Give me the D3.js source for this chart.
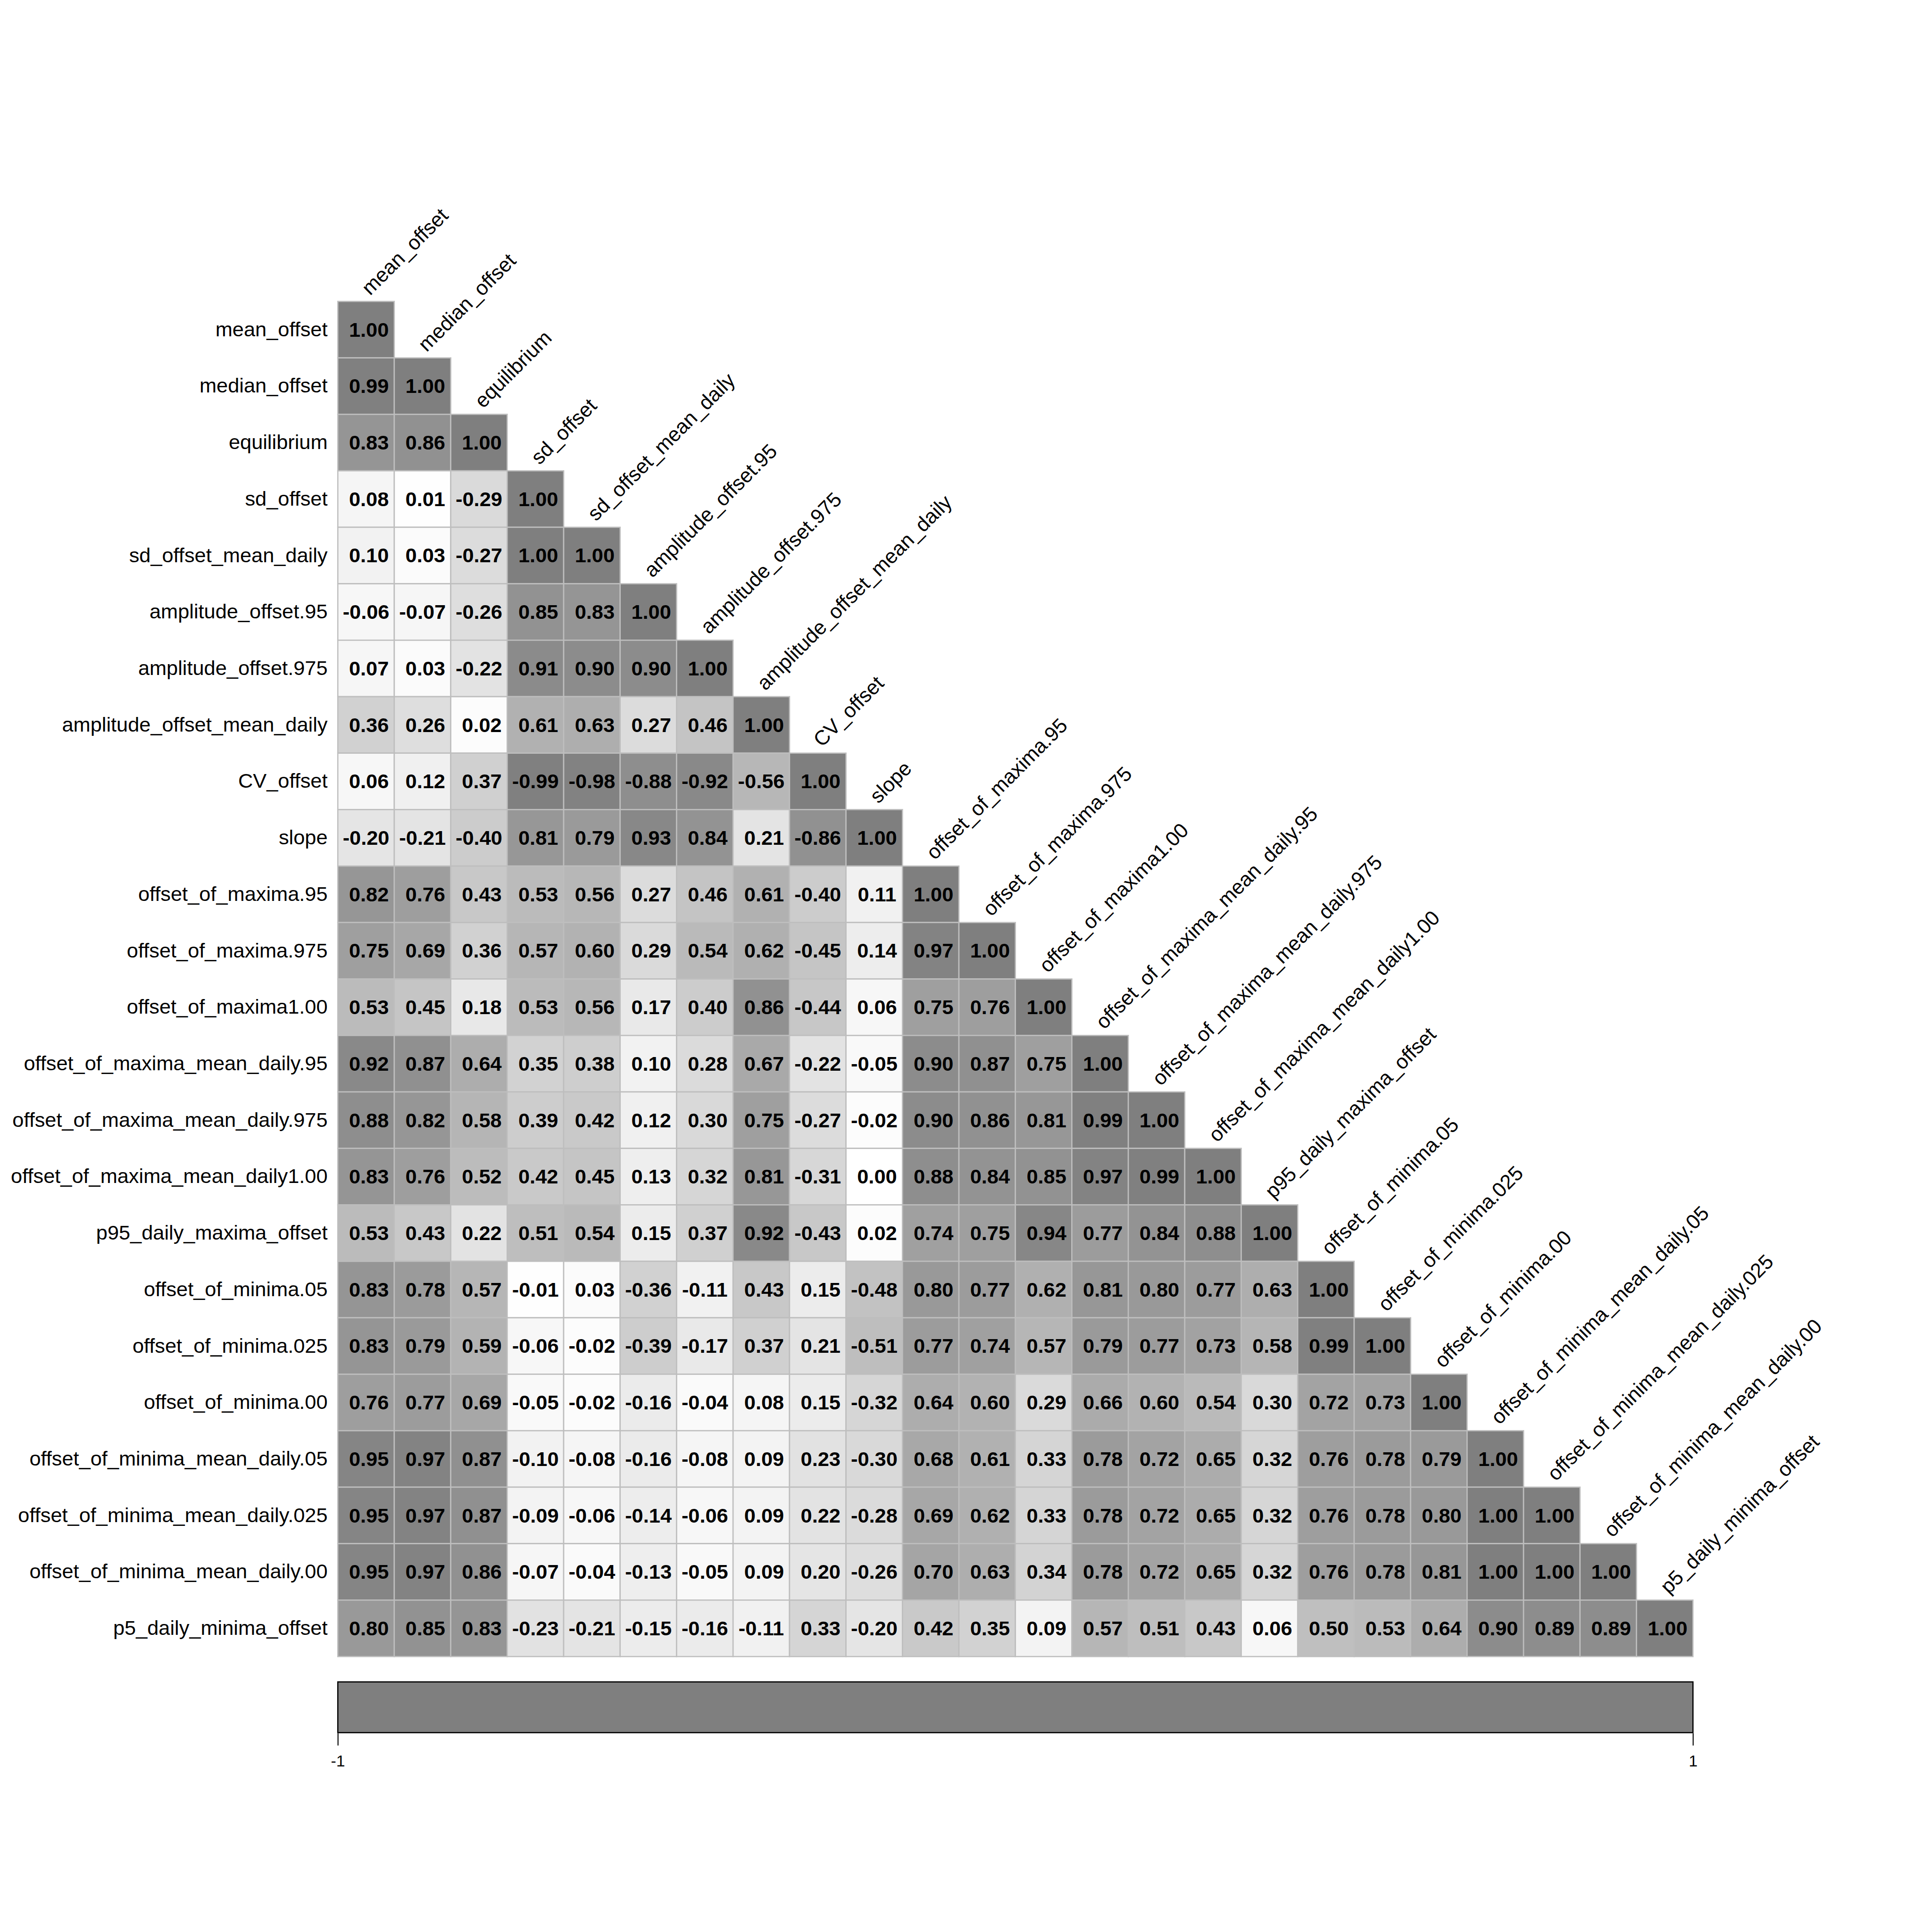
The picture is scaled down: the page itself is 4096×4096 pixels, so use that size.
<!DOCTYPE html>
<html>
<head>
<meta charset="utf-8">
<script src="https://cdn.jsdelivr.net/npm/d3@7"></script>
<style>
  html, body { margin: 0; padding: 0; background: #ffffff; }
  svg { display: block; }
</style>
</head>
<body>
<script>
// ---------------- data ----------------
const variables = [
  "mean_offset", "median_offset", "equilibrium", "sd_offset", "sd_offset_mean_daily",
  "amplitude_offset.95", "amplitude_offset.975", "amplitude_offset_mean_daily", "CV_offset",
  "slope", "offset_of_maxima.95", "offset_of_maxima.975", "offset_of_maxima1.00",
  "offset_of_maxima_mean_daily.95", "offset_of_maxima_mean_daily.975",
  "offset_of_maxima_mean_daily1.00", "p95_daily_maxima_offset", "offset_of_minima.05",
  "offset_of_minima.025", "offset_of_minima.00", "offset_of_minima_mean_daily.05",
  "offset_of_minima_mean_daily.025", "offset_of_minima_mean_daily.00", "p5_daily_minima_offset"
];

// lower triangle (row i holds correlations with columns 0..i)
const corrRows = [
  [1.00],
  [0.99, 1.00],
  [0.83, 0.86, 1.00],
  [0.08, 0.01, -0.29, 1.00],
  [0.10, 0.03, -0.27, 1.00, 1.00],
  [-0.06, -0.07, -0.26, 0.85, 0.83, 1.00],
  [0.07, 0.03, -0.22, 0.91, 0.90, 0.90, 1.00],
  [0.36, 0.26, 0.02, 0.61, 0.63, 0.27, 0.46, 1.00],
  [0.06, 0.12, 0.37, -0.99, -0.98, -0.88, -0.92, -0.56, 1.00],
  [-0.20, -0.21, -0.40, 0.81, 0.79, 0.93, 0.84, 0.21, -0.86, 1.00],
  [0.82, 0.76, 0.43, 0.53, 0.56, 0.27, 0.46, 0.61, -0.40, 0.11, 1.00],
  [0.75, 0.69, 0.36, 0.57, 0.60, 0.29, 0.54, 0.62, -0.45, 0.14, 0.97, 1.00],
  [0.53, 0.45, 0.18, 0.53, 0.56, 0.17, 0.40, 0.86, -0.44, 0.06, 0.75, 0.76, 1.00],
  [0.92, 0.87, 0.64, 0.35, 0.38, 0.10, 0.28, 0.67, -0.22, -0.05, 0.90, 0.87, 0.75, 1.00],
  [0.88, 0.82, 0.58, 0.39, 0.42, 0.12, 0.30, 0.75, -0.27, -0.02, 0.90, 0.86, 0.81, 0.99, 1.00],
  [0.83, 0.76, 0.52, 0.42, 0.45, 0.13, 0.32, 0.81, -0.31, 0.00, 0.88, 0.84, 0.85, 0.97, 0.99, 1.00],
  [0.53, 0.43, 0.22, 0.51, 0.54, 0.15, 0.37, 0.92, -0.43, 0.02, 0.74, 0.75, 0.94, 0.77, 0.84, 0.88, 1.00],
  [0.83, 0.78, 0.57, -0.01, 0.03, -0.36, -0.11, 0.43, 0.15, -0.48, 0.80, 0.77, 0.62, 0.81, 0.80, 0.77, 0.63, 1.00],
  [0.83, 0.79, 0.59, -0.06, -0.02, -0.39, -0.17, 0.37, 0.21, -0.51, 0.77, 0.74, 0.57, 0.79, 0.77, 0.73, 0.58, 0.99, 1.00],
  [0.76, 0.77, 0.69, -0.05, -0.02, -0.16, -0.04, 0.08, 0.15, -0.32, 0.64, 0.60, 0.29, 0.66, 0.60, 0.54, 0.30, 0.72, 0.73, 1.00],
  [0.95, 0.97, 0.87, -0.10, -0.08, -0.16, -0.08, 0.09, 0.23, -0.30, 0.68, 0.61, 0.33, 0.78, 0.72, 0.65, 0.32, 0.76, 0.78, 0.79, 1.00],
  [0.95, 0.97, 0.87, -0.09, -0.06, -0.14, -0.06, 0.09, 0.22, -0.28, 0.69, 0.62, 0.33, 0.78, 0.72, 0.65, 0.32, 0.76, 0.78, 0.80, 1.00, 1.00],
  [0.95, 0.97, 0.86, -0.07, -0.04, -0.13, -0.05, 0.09, 0.20, -0.26, 0.70, 0.63, 0.34, 0.78, 0.72, 0.65, 0.32, 0.76, 0.78, 0.81, 1.00, 1.00, 1.00],
  [0.80, 0.85, 0.83, -0.23, -0.21, -0.15, -0.16, -0.11, 0.33, -0.20, 0.42, 0.35, 0.09, 0.57, 0.51, 0.43, 0.06, 0.50, 0.53, 0.64, 0.90, 0.89, 0.89, 1.00]
];

const colorbarTicks = [-1, 1];

// ---------------- layout (reference pixel units, scaled at the end) ----------------
const REF = 4724, OUT = 4096, S = OUT / REF;
const gridLeft = 826, gridRight = 4139.5, gridTop = 737;
const gridSize = gridRight - gridLeft;
const FONT = "'Liberation Sans', Arial, Helvetica, sans-serif";
const labelSize = 50, numSize = 50;

const svg = d3.select("body").append("svg")
  .attr("width", OUT).attr("height", OUT)
  .attr("viewBox", `0 0 ${OUT} ${OUT}`);
svg.append("rect").attr("width", OUT).attr("height", OUT).attr("fill", "#ffffff");

const g = svg.append("g").attr("transform", `scale(${S})`);

const x = d3.scaleBand().domain(variables).range([gridLeft, gridRight]).padding(0);
const y = d3.scaleBand().domain(variables).range([gridTop, gridTop + gridSize]).padding(0);
const color = d3.scaleLinear().domain([-1, 0, 1]).range(["#7f7f7f", "#ffffff", "#7f7f7f"]);

const cells = [];
corrRows.forEach((row, i) => row.forEach((v, j) => cells.push({ r: variables[i], c: variables[j], v })));

// cells
g.append("g").selectAll("rect").data(cells).join("rect")
  .attr("x", d => x(d.c)).attr("y", d => y(d.r))
  .attr("width", x.bandwidth()).attr("height", y.bandwidth())
  .attr("fill", d => color(d.v))
  .attr("stroke", "#bebebe").attr("stroke-width", 3);

// numbers
g.append("g").selectAll("text").data(cells).join("text")
  .attr("x", d => x(d.c) + x.bandwidth() / 2)
  .attr("y", d => y(d.r) + y.bandwidth() / 2)
  .attr("dy", "0.34em")
  .attr("dx", d => d.v >= 0 ? numSize * 0.139 : 0)
  .attr("text-anchor", "middle")
  .attr("font-family", FONT).attr("font-weight", "bold")
  .attr("font-size", numSize).attr("fill", "#000000")
  .text(d => d.v.toFixed(2));

// row labels
g.append("g").selectAll("text").data(variables).join("text")
  .attr("x", gridLeft - 25)
  .attr("y", d => y(d) + y.bandwidth() / 2)
  .attr("dy", "0.32em")
  .attr("text-anchor", "end")
  .attr("font-family", FONT).attr("font-size", labelSize).attr("fill", "#000000")
  .text(d => d);

// column labels (rotated, above the diagonal cell)
g.append("g").selectAll("text").data(variables).join("text")
  .attr("transform", d => `translate(${x(d) + x.bandwidth() / 2 + 10},${y(d) - 13}) rotate(-45)`)
  .attr("text-anchor", "start")
  .attr("font-family", FONT).attr("font-size", labelSize).attr("fill", "#000000")
  .text(d => d);

// colour bar
const cbTop = 4112.5, cbBottom = 4236.5;
const cbScale = d3.scaleLinear().domain([-1, 1]).range([gridLeft, gridRight]);
g.append("rect")
  .attr("x", cbScale(-1)).attr("y", cbTop)
  .attr("width", cbScale(1) - cbScale(-1)).attr("height", cbBottom - cbTop)
  .attr("fill", color(1)).attr("stroke", "#000000").attr("stroke-width", 3);

const axis = d3.axisBottom(cbScale).tickValues(colorbarTicks).tickSize(30).tickPadding(24)
  .tickFormat(d => String(d));
const ax = g.append("g").attr("transform", `translate(0,${cbBottom + 1.5})`).call(axis);
ax.select(".domain").remove();
ax.selectAll(".tick line").attr("stroke", "#000000").attr("stroke-width", 2.5);
ax.selectAll(".tick text").attr("font-family", FONT).attr("font-size", 39).attr("fill", "#000000");
</script>
</body>
</html>
